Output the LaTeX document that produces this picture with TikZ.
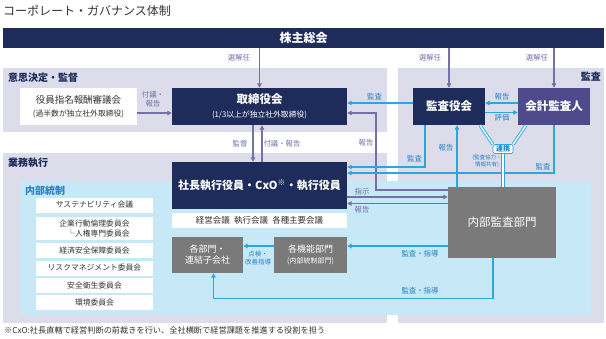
\documentclass[tikz,border=0pt]{standalone}
\usepackage{fontspec}
\setmainfont{Noto Sans CJK JP}
\usetikzlibrary{arrows.meta, positioning, calc}
\definecolor{cgnavy}{RGB}{30,44,92}
\definecolor{cgpurple}{RGB}{78,74,140}
\definecolor{cglavender}{RGB}{221,220,234}
\definecolor{cglightblue}{RGB}{199,232,246}
\definecolor{cggray}{RGB}{122,122,122}
\definecolor{cgblue}{RGB}{41,167,225}
\definecolor{cgline}{RGB}{116,112,168}
\definecolor{cgtext}{RGB}{51,51,51}
\definecolor{cgbluetext}{RGB}{40,130,200}
\tikzstyle{darkbox} = [rectangle, fill=cgnavy, text=white, inner sep=0pt, align=center,
                       font=\fontsize{11.5}{13}\selectfont\bfseries]
\tikzstyle{graybox} = [rectangle, fill=cggray, text=white, inner sep=0pt, align=center,
                       font=\fontsize{9}{11}\selectfont]
\tikzstyle{whitebox} = [rectangle, fill=white, text=cgtext, inner sep=0pt, align=center,
                        font=\fontsize{7.8}{10}\selectfont]
\tikzstyle{listbox} = [whitebox, minimum width=117pt, minimum height=15pt]
\tikzstyle{purplearrow} = [-{Triangle[length=4.5pt,width=4.5pt]}, line width=1.4pt, cgline]
\tikzstyle{bluearrow} = [-{Triangle[length=4.5pt,width=4.5pt]}, line width=1.4pt, cgblue]
\tikzstyle{linkline} = [draw=cgblue, double=white, line width=0.9pt, double distance=1.4pt]
\tikzstyle{purplelabel} = [text=cgline, font=\fontsize{7.4}{8.8}\selectfont, inner sep=0pt, align=center]
\tikzstyle{bluelabel} = [text=cgbluetext, font=\fontsize{7.4}{8.8}\selectfont, inner sep=0pt, align=center]
\tikzstyle{zonelabel} = [text=cgnavy, font=\fontsize{10}{12}\selectfont\bfseries, inner sep=0pt]
\begin{document}
\begin{tikzpicture}[x=1pt, y=-1pt]
\useasboundingbox (0,0) rectangle (606,338);

% Title
\node[anchor=west, inner sep=0pt, text=cgtext, font=\fontsize{12}{14}\selectfont] (title) at (3,11) {コーポレート・ガバナンス体制};

% Shareholders
\node[darkbox, minimum width=601pt, minimum height=20pt, font=\fontsize{12}{14}\selectfont\bfseries] (share) at (303.5,38) {株主総会};

% Zones
\fill[cglavender] (3,68) rectangle (387,132);
\fill[cglavender] (3,153) rectangle (387,323);
\fill[cglavender] (398,68) rectangle (604,323);
\fill[cglightblue] (20,181) rectangle (591,315);

\node[zonelabel, anchor=west] (zone1) at (8,78) {意思決定・監督};
\node[zonelabel, anchor=east] (zone2) at (601,77) {監査};
\node[zonelabel, anchor=west] (zone3) at (8,163) {業務執行};
\node[zonelabel, anchor=west, text=cgbluetext] (zone4) at (25,191) {内部統制};

% Decision and supervision
\node[whitebox, minimum width=117pt, minimum height=37pt, font=\fontsize{9.5}{11}\selectfont] (nominate) at (78.5,106.5)
    {役員指名報酬審議会\\[2pt]{\fontsize{7.8}{9}\selectfont (過半数が独立社外取締役)}};
\node[darkbox, minimum width=175pt, minimum height=37pt] (board) at (259.5,106.5)
    {取締役会\\[1pt]{\fontsize{7.8}{9}\selectfont\mdseries (1/3以上が独立社外取締役)}};

% Audit
\node[darkbox, minimum width=72pt, minimum height=37pt] (kansa) at (449,106.5) {監査役会};
\node[darkbox, fill=cgpurple, minimum width=72pt, minimum height=37pt] (auditor) at (554,106.5) {会計監査人};

% Execution
\node[darkbox, minimum width=175pt, minimum height=47pt, font=\fontsize{11}{13}\selectfont\bfseries] (ceo) at (259.5,185.5)
    {社長執行役員・CxO\textsuperscript{※}・執行役員};
\node[whitebox, minimum width=175pt, minimum height=15pt, font=\fontsize{8.5}{10}\selectfont] (meeting) at (259.5,220.5)
    {経営会議\enspace 執行会議\enspace 各種主要会議};
\node[graybox, minimum width=108pt, minimum height=71pt, font=\fontsize{11.5}{13}\selectfont] (internal) at (502,222.5) {内部監査部門};
\node[graybox, minimum width=71pt, minimum height=36pt] (depts) at (207.5,255) {各部門・\\連結子会社};
\node[graybox, minimum width=73pt, minimum height=36pt] (func) at (310.5,255)
    {各機能部門\\{\fontsize{7}{9}\selectfont (内部統制部門)}};

% Internal control committees
\node[listbox] (c1) at (94.5,205) {サステナビリティ会議};
\node[listbox, minimum height=23pt, align=right, font=\fontsize{7.8}{10.5}\selectfont] (c2) at (94.5,228.5) {企業行動倫理委員会\\└人権専門委員会};
\node[listbox] (c3) at (94.5,250.5) {経済安全保障委員会};
\node[listbox] (c4) at (94.5,268) {リスクマネジメント委員会};
\node[listbox] (c5) at (94.5,285.5) {安全衛生委員会};
\node[listbox] (c6) at (94.5,302.5) {環境委員会};

% Link
\node[draw=cgblue, line width=0.7pt, fill=white, rounded corners=1.5pt, text=cgbluetext, inner sep=1pt,
      minimum width=20pt, minimum height=9pt, font=\fontsize{7}{8}\selectfont\bfseries] (link) at (503,149) {連携};

% Arrows
\draw[purplearrow] (board.north |- share.south) -- (board.north);
\draw[purplearrow] (kansa.north |- share.south) -- (kansa.north);
\draw[purplearrow] (auditor.north |- share.south) -- (auditor.north);
\draw[purplearrow] ([yshift=-6.5pt]nominate.east) -- ([yshift=-6.5pt]board.west);
\draw[bluearrow] ([yshift=3.5pt]kansa.west) -- ([yshift=3.5pt]board.east);
\draw[bluearrow] ([yshift=3.5pt]auditor.west) -- ([yshift=3.5pt]kansa.east);
\draw[bluearrow] ([yshift=-6pt]kansa.east) -- ([yshift=-6pt]auditor.west);
\draw[purplearrow] ([xshift=-6.5pt]board.south) -- ([xshift=-6.5pt]ceo.north);
\draw[purplearrow] ([xshift=2.5pt]ceo.north) -- ([xshift=2.5pt]board.south);
\draw[purplearrow] ([yshift=32.5pt]internal.west) -- ++(-72,0) |- ([yshift=-6.5pt]board.east);
\draw[bluearrow] ([xshift=-24pt]kansa.south) |- ([yshift=18.5pt]ceo.east);
\draw[bluearrow] (auditor.south) |- ([yshift=12.5pt]ceo.east);
\draw[bluearrow] ([xshift=-45pt]internal.north) -- ([xshift=8pt]kansa.south);
\draw[purplearrow] ([yshift=-11.5pt]ceo.east) -- ([yshift=-11.5pt]ceo.east -| internal.west);
\draw[purplearrow] ([yshift=-18pt]ceo.east -| internal.west) -- ([yshift=-18pt]ceo.east);
\draw[bluearrow] ([yshift=9pt]func.east -| internal.west) -- ([yshift=9pt]func.east);
\draw[bluearrow] ([yshift=9pt]func.west) -- ([yshift=9pt]depts.east);
\draw[bluearrow] ([xshift=-9pt]internal.south) -- ++(0,40) -| ([xshift=6pt]depts.south);
\draw[linkline] ([xshift=31pt]kansa.south) -- (link.north west);
\draw[linkline] ([xshift=-28pt]auditor.south) -- (link.north east);
\draw[linkline] (link.south) -- (link.south |- internal.north);

% Labels
\node[purplelabel] (l1) at (239,58) {選解任};
\node[purplelabel] (l2) at (430,58) {選解任};
\node[purplelabel] (l3) at (537,58) {選解任};
\node[purplelabel] (l4) at (153,99.5) {付議・\\報告};
\node[bluelabel] (l5) at (374.5,97) {監査};
\node[bluelabel] (l6) at (502,97) {報告};
\node[bluelabel] (l7) at (502,118) {評価};
\node[purplelabel] (l8) at (366,143) {報告};
\node[purplelabel] (l9) at (240,144) {監督};
\node[purplelabel] (l10) at (282,144) {付議・報告};
\node[bluelabel] (l11) at (414.5,159) {監査};
\node[bluelabel] (l12) at (543,167) {監査};
\node[bluelabel] (l13) at (446,148) {報告};
\node[bluelabel, font=\fontsize{5.5}{6.5}\selectfont] (l14) at (487,161) {(監査協力・\\情報共有)};
\node[purplelabel] (l15) at (362,192) {指示};
\node[purplelabel] (l16) at (362,210) {報告};
\node[bluelabel] (l17) at (420,254) {監査・指導};
\node[bluelabel] (l18) at (420,291) {監査・指導};
\node[bluelabel, font=\fontsize{6.5}{8}\selectfont] (l19) at (258,258) {点検・\\改善指導};

% Footnote
\node[anchor=west, inner sep=0pt, text=cgtext, font=\fontsize{8.2}{10}\selectfont] (note) at (4,330)
    {※CxO:社長直轄で経営判断の前裁きを行い、全社横断で経営課題を推進する役割を担う};

\end{tikzpicture}
\end{document}
